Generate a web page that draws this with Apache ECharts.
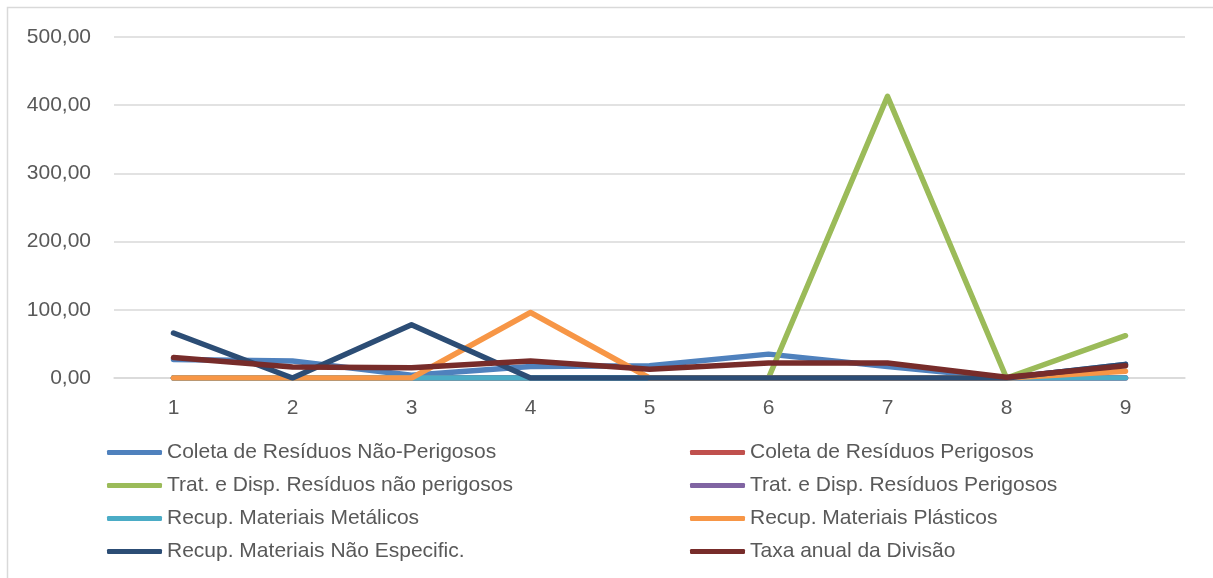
<!DOCTYPE html>
<html>
<head>
<meta charset="utf-8">
<script src="https://cdn.jsdelivr.net/npm/echarts@6/dist/echarts.min.js"></script>
<style>
html,body{margin:0;padding:0;background:#fff;}
#main{width:1213px;height:578px;}
</style>
</head>
<body>
<div id="main"></div>
<script>
// categorias (eixo x)
var categorias = ['1','2','3','4','5','6','7','8','9'];

// séries
var coletaNaoPerigosos = [27, 25, 4, 17, 18, 35, 17, 0, 20];
var coletaPerigosos    = [0, 0, 0, 0, 0, 0, 0, 0, 0];
var tratNaoPerigosos   = [0, 0, 0, 0, 0, 0, 413, 0, 62];
var tratPerigosos      = [0, 0, 0, 0, 0, 0, 0, 0, 0];
var recupMetalicos     = [0, 0, 0, 0, 0, 0, 0, 0, 0];
var recupPlasticos     = [0, 0, 0, 96, 0, 0, 0, 0, 10];
var recupNaoEspecific  = [66, 0, 78, 0, 0, 0, 0, 0, 20];
var taxaAnual          = [30, 16, 15, 25, 13, 22, 22, 1, 18];

var nomes = [
	'Coleta de Resíduos Não-Perigosos',
	'Coleta de Resíduos Perigosos',
	'Trat. e Disp. Resíduos não perigosos',
	'Trat. e Disp. Resíduos Perigosos',
	'Recup. Materiais Metálicos',
	'Recup. Materiais Plásticos',
	'Recup. Materiais Não Especific.',
	'Taxa anual da Divisão'
];
var dados = [coletaNaoPerigosos, coletaPerigosos, tratNaoPerigosos, tratPerigosos,
	recupMetalicos, recupPlasticos, recupNaoEspecific, taxaAnual];
var cores = ['#4F81BD','#C0504D','#9BBB59','#8064A2','#4BACC6','#F79646','#2C4D75','#772C2A'];

var fonte = '"Liberation Sans", Arial, sans-serif';

var series = [];
for (var i = 0; i < nomes.length; i++) {
	series.push({
		name: nomes[i],
		type: 'line',
		data: dados[i],
		showSymbol: false,
		symbol: 'none',
		z: 2 + i,
		lineStyle: { width: 5.5, color: cores[i], cap: 'round', join: 'round' },
		itemStyle: { color: cores[i] }
	});
}

function legenda(lista, left) {
	return {
		orient: 'vertical',
		left: left,
		top: 442,
		padding: 0,
		data: lista,
		icon: 'roundRect',
		itemWidth: 55,
		itemHeight: 5,
		itemGap: 12,
		textStyle: { fontFamily: fonte, fontSize: 21, color: '#595959', lineHeight: 21 },
		selectedMode: false
	};
}

var myChart = echarts.init(document.getElementById('main'));
var option = {
	animation: false,
	color: cores,
	grid: { left: 114, right: 28, top: 37, bottom: 200 },
	xAxis: {
		type: 'category',
		data: categorias,
		boundaryGap: true,
		axisLine: { show: true, lineStyle: { color: '#D9D9D9', width: 1.5 } },
		axisTick: { show: false },
		axisLabel: { margin: 20, color: '#595959', fontFamily: fonte, fontSize: 21 }
	},
	yAxis: {
		type: 'value',
		min: 0,
		max: 500,
		interval: 100,
		axisLine: { show: false },
		axisTick: { show: false },
		splitLine: { lineStyle: { color: '#D9D9D9', width: 1.5 } },
		axisLabel: {
			margin: 23,
			color: '#595959',
			fontFamily: fonte,
			fontSize: 21,
			formatter: function (v) { return v.toFixed(2).replace('.', ','); }
		}
	},
	legend: [
		legenda([nomes[0], nomes[2], nomes[4], nomes[6]], 107),
		legenda([nomes[1], nomes[3], nomes[5], nomes[7]], 690)
	],
	graphic: [{
		type: 'rect',
		shape: { x: 7.5, y: 7.5, width: 1230, height: 620 },
		style: { fill: 'none', stroke: '#D9D9D9', lineWidth: 1.5 },
		silent: true
	}],
	series: series
};
myChart.setOption(option);
</script>
</body>
</html>
